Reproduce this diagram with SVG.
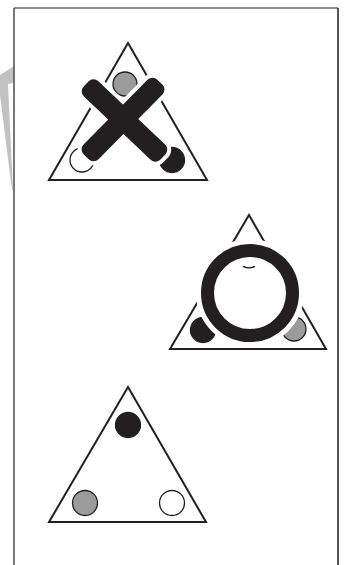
<svg xmlns="http://www.w3.org/2000/svg" width="349" height="565" viewBox="0 0 349 565">
<style>
.tri{fill:#fff;stroke:#231f20;stroke-width:2;stroke-linejoin:miter}
.dot{stroke:#231f20;stroke-width:1.3}
.blk{fill:#231f20}
.gry{fill:#9b9b9b}
.wht{fill:#fff}
.halo{fill:none;stroke:#fff}
.ink{fill:none;stroke:#231f20}
</style>
<rect width="349" height="565" fill="#fff"/>
<g id="watermark">
<polygon points="0,75 14,66 14,83 8,84 13,190 12,190 0,95" fill="#c2c2c2"/>
</g>
<g id="frame" fill="none">
<line x1="14" y1="8" x2="338" y2="8" stroke="#6a6a6a" stroke-width="1.3"/>
<line x1="14" y1="8" x2="14" y2="565" stroke="#555" stroke-width="1.6"/>
<line x1="338" y1="8" x2="338" y2="565" stroke="#2a2a2a" stroke-width="1.6"/>
</g>
<g id="figure-cross">
<polygon class="tri" points="128,43 207,180 49,180"/>
<circle class="dot gry" cx="125" cy="84" r="12"/>
<circle class="dot wht" cx="82" cy="160" r="12"/>
<circle class="dot blk" cx="172" cy="160" r="12.5"/>
<g transform="translate(124.5,120.5) rotate(43.5)">
<rect class="halo" x="-53" y="-10.5" width="106" height="21" rx="7" stroke-width="8"/>
</g>
<g transform="translate(123,119.5) rotate(-45.4)">
<rect class="halo" x="-52.5" y="-10.5" width="105" height="21" rx="7" stroke-width="8"/>
</g>
<g transform="translate(124.5,120.5) rotate(43.5)">
<rect class="blk" x="-53" y="-10.5" width="106" height="21" rx="7"/>
</g>
<g transform="translate(123,119.5) rotate(-45.4)">
<rect class="blk" x="-52.5" y="-10.5" width="105" height="21" rx="7"/>
</g>
</g>
<g id="figure-ring">
<polygon class="tri" points="249,215 326,349 170,349"/>
<circle class="dot blk" cx="203" cy="330" r="12.5"/>
<circle class="dot gry" cx="294" cy="329" r="12"/>
<circle class="halo" cx="250" cy="293" r="42.5" stroke-width="23"/>
<circle class="ink" cx="250" cy="293" r="42.5" stroke-width="13"/>
<path class="ink" d="M243,266.3 A13,13 0 0 0 255,266.3" stroke-width="1.4"/>
</g>
<g id="figure-dots">
<polygon class="tri" points="128,387 206,522 49,522"/>
<circle class="dot blk" cx="128" cy="425" r="12.5"/>
<circle class="dot gry" cx="85" cy="503" r="12.5"/>
<circle class="dot wht" cx="172" cy="503" r="12.5"/>
</g>
</svg>
